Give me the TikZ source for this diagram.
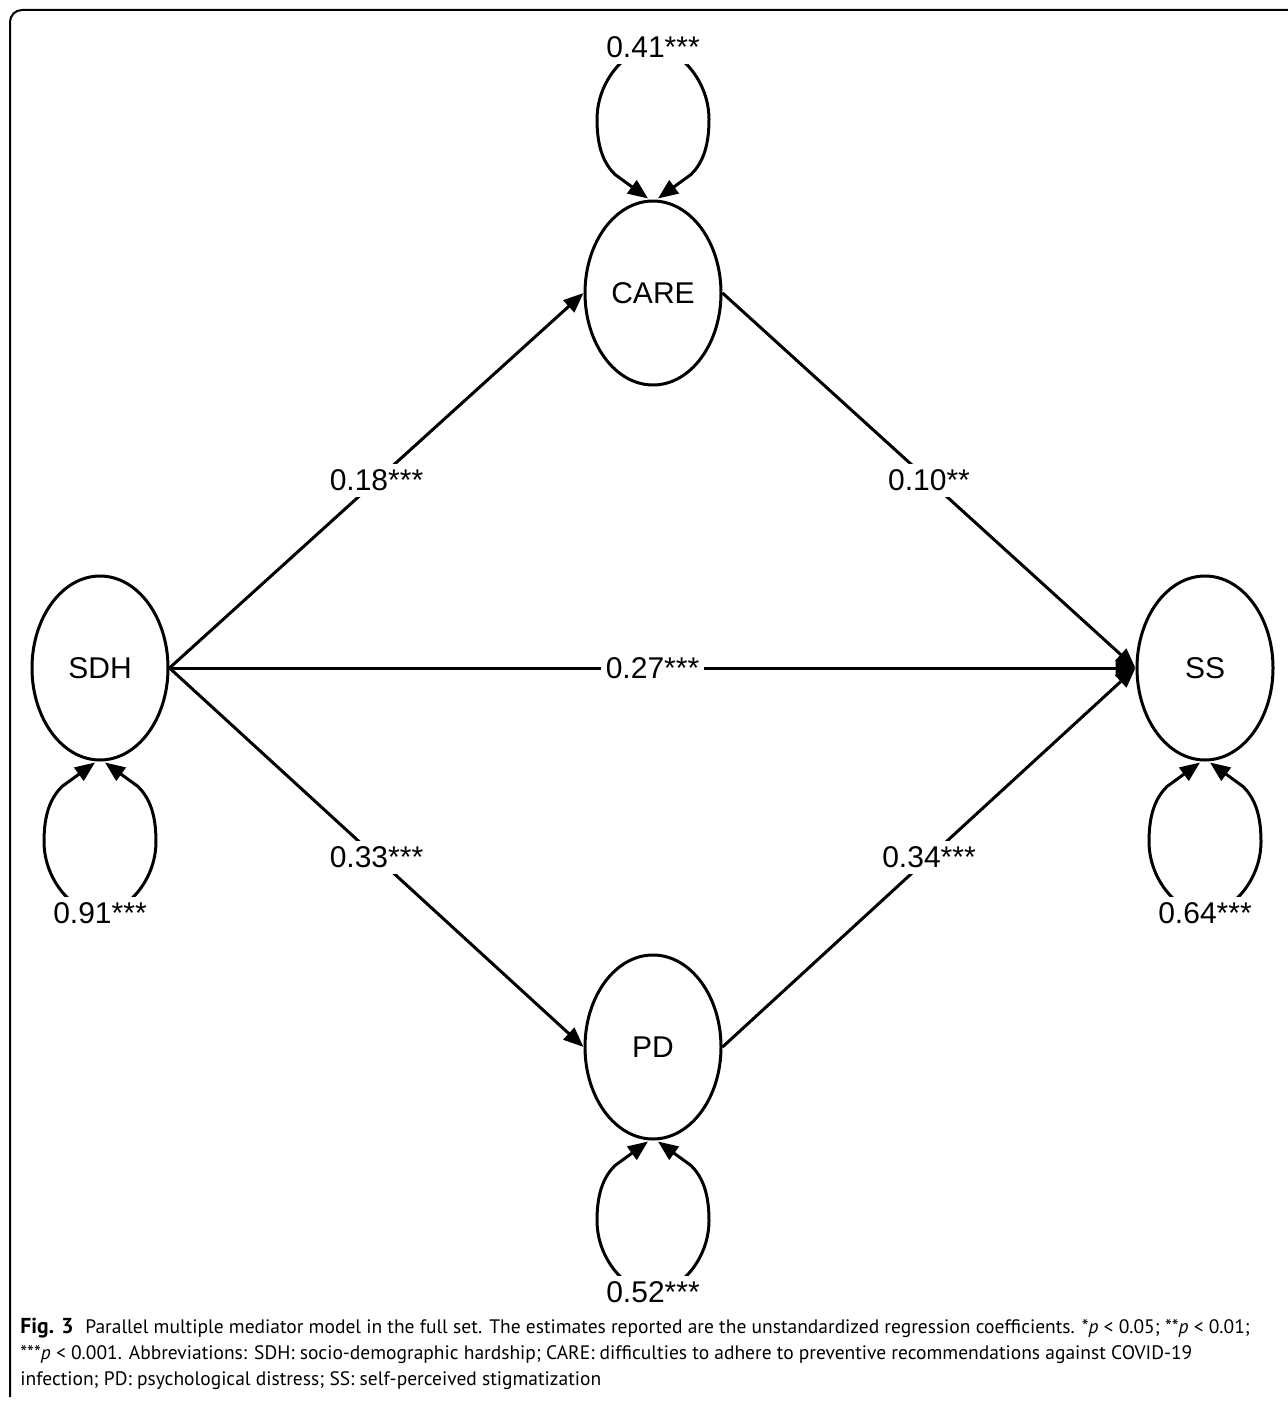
\documentclass[tikz,border=0pt]{standalone}
\usepackage{fontspec}
\setmainfont{Liberation Sans}
\newfontfamily\capfont{PT Sans}
\usetikzlibrary{arrows.meta,shapes.geometric,calc}

\newcommand\resloop[4]{%
  \coordinate (#1-lp) at ($(#1.#2)+(0,#3*152)$);
  \draw[pathline] (#1-lp) .. controls ($(#1.#2)+(-25,#3*152)$) and ($(#1.#2)+(-56,#3*120)$) .. ($(#1.#2)+(-56,#3*80)$)
     .. controls ($(#1.#2)+(-56,#3*50)$) and ($(#1.#2)+(-48,#3*35)$) .. ($(#1.#2)+(-38,#3*25)$) -- ($(#1.#2)+(-5,#3*1)$);
  \draw[pathline] (#1-lp) .. controls ($(#1.#2)+(25,#3*152)$) and ($(#1.#2)+(56,#3*120)$) .. ($(#1.#2)+(56,#3*80)$)
     .. controls ($(#1.#2)+(56,#3*50)$) and ($(#1.#2)+(48,#3*35)$) .. ($(#1.#2)+(38,#3*25)$) -- ($(#1.#2)+(5,#3*1)$);
  \node[coef] (#1-var) at (#1-lp) {#4};
}

\begin{document}
\begin{tikzpicture}[x=0.5pt,y=-0.5pt,
  latent/.style={ellipse,draw,line width=1.5pt,minimum width=68pt,minimum height=92pt,inner sep=0pt,
                 font=\fontsize{15pt}{18pt}\selectfont},
  pathline/.style={line width=1.5pt,line join=round,-{Triangle[length=10pt,width=8pt]}},
  coef/.style={fill=white,inner xsep=2.5pt,inner ysep=3pt,font=\fontsize{15pt}{18pt}\selectfont},
  frame/.style={line width=1pt,rounded corners=6pt},
  caption/.style={anchor=north west,inner sep=0pt,align=left,
                  font=\capfont\fontsize{9.75pt}{13pt}\selectfont}]
\useasboundingbox (0,0) rectangle (1287,1402);
\draw[frame] (1300,10) -- (10,10) -- (10,1397);

\node[latent] (sdh)  at (100,668)  {SDH};
\node[latent] (care) at (653,293)  {CARE};
\node[latent] (pd)   at (653,1047) {PD};
\node[latent] (ss)   at (1205,668) {SS};

\draw[pathline] (sdh.east) -- node[coef] (e1) {0.18***} (care.west);
\draw[pathline] (care.east) -- node[coef] (e2) {0.10**} (ss.west);
\draw[pathline] (sdh.east) -- node[coef] (e3) {0.27***} (ss.west);
\draw[pathline] (sdh.east) -- node[coef] (e4) {0.33***} (pd.west);
\draw[pathline] (pd.east) -- node[coef] (e5) {0.34***} (ss.west);

\resloop{care}{north}{-1}{0.41***}
\resloop{sdh}{south}{1}{0.91***}
\resloop{ss}{south}{1}{0.64***}
\resloop{pd}{south}{1}{0.52***}

\node[caption] (cap) at (20,1318) {{\fontsize{10.8pt}{13pt}\selectfont\textbf{Fig. 3}}\hspace{0.6em}Parallel multiple mediator model in the full set. The estimates reported are the unstandardized regression coefficients. *\textit{p} < 0.05; **\textit{p} < 0.01;\\
***\textit{p} < 0.001. Abbreviations: SDH: socio-demographic hardship; CARE: difficulties to adhere to preventive recommendations against COVID-19\\
infection; PD: psychological distress; SS: self-perceived stigmatization};
\end{tikzpicture}
\end{document}
